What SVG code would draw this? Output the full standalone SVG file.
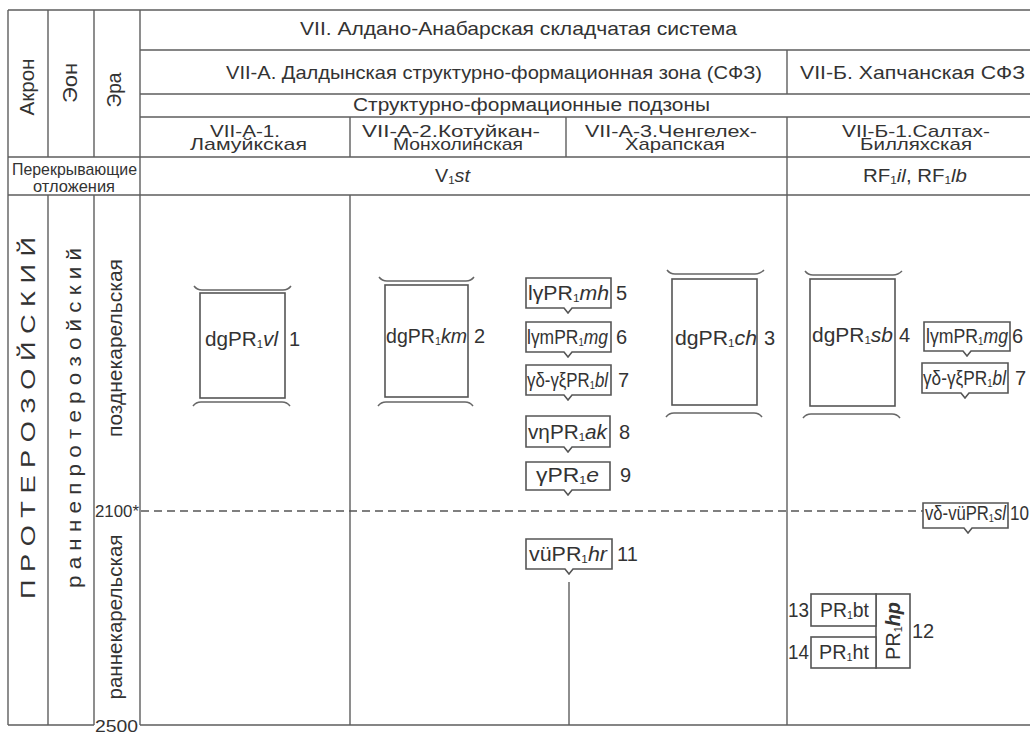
<svg xmlns="http://www.w3.org/2000/svg" width="1030" height="732" viewBox="0 0 1030 732">
<style>
.t{font-family:"Liberation Sans",Arial,sans-serif;fill:#333;}
.ln{stroke:#5e5e5e;stroke-width:1.4;fill:none;}
.bx{stroke:#555;stroke-width:1.6;fill:#fff;}
.br{stroke:#666;stroke-width:1.5;fill:none;}
.i{font-style:italic;}
.bi{font-style:italic;font-weight:bold;}
.dash{stroke:#555;stroke-width:1.3;stroke-dasharray:8 5;fill:none;}
</style>
<rect width="1030" height="732" fill="#fff"/>
<g id="grid" class="ln">
<path d="M8 10H1030M140 50H1030M140 94H1030M140 117H1030M8 157H1030M8 195H1030M8 725H94M140 725H1030"/>
<path d="M8 10V725M48 10V157M48 195V725M94 10V157M94 195V725M140 10V725M787 50V94M787 117V725M350 117V157M350 195V725M566 117V157"/>
</g>
<g id="header" class="t">
<text x="300" y="35" font-size="19" textLength="437" lengthAdjust="spacingAndGlyphs">VII. Алдано-Анабарская складчатая система</text>
<text x="226" y="79" font-size="19" textLength="536" lengthAdjust="spacingAndGlyphs">VII-А. Далдынская структурно-формационная зона (СФЗ)</text>
<text x="800" y="79" font-size="19" textLength="225" lengthAdjust="spacingAndGlyphs">VII-Б. Хапчанская СФЗ</text>
<text x="353" y="111" font-size="18" textLength="357" lengthAdjust="spacingAndGlyphs">Структурно-формационные подзоны</text>
<text x="210" y="137" font-size="17" textLength="70" lengthAdjust="spacingAndGlyphs">VII-А-1.</text>
<text x="190" y="150" font-size="17" textLength="117" lengthAdjust="spacingAndGlyphs">Ламуйкская</text>
<text x="362" y="137" font-size="17" textLength="178" lengthAdjust="spacingAndGlyphs">VII-А-2.Котуйкан-</text>
<text x="393" y="150" font-size="17" textLength="130" lengthAdjust="spacingAndGlyphs">Монхолинская</text>
<text x="585" y="137" font-size="17" textLength="172" lengthAdjust="spacingAndGlyphs">VII-А-3.Ченгелех-</text>
<text x="625" y="150" font-size="17" textLength="100" lengthAdjust="spacingAndGlyphs">Харапская</text>
<text x="842" y="137" font-size="17" textLength="148" lengthAdjust="spacingAndGlyphs">VII-Б-1.Салтах-</text>
<text x="860" y="150" font-size="17" textLength="112" lengthAdjust="spacingAndGlyphs">Билляхская</text>
<text x="12" y="175" font-size="17" textLength="125" lengthAdjust="spacingAndGlyphs">Перекрывающие</text>
<text x="33" y="192" font-size="17" textLength="82" lengthAdjust="spacingAndGlyphs">отложения</text>
<text x="435" y="182" font-size="19" textLength="35" lengthAdjust="spacingAndGlyphs">V<tspan font-size="11" dy="2">1</tspan><tspan dy="-2" class="i">st</tspan></text>
<text x="863" y="182" font-size="19" textLength="104" lengthAdjust="spacingAndGlyphs">RF<tspan font-size="11" dy="2">1</tspan><tspan dy="-2" class="i">il</tspan>, RF<tspan font-size="11" dy="2">1</tspan><tspan dy="-2" class="i">lb</tspan></text>
</g>
<g id="scale" class="t" font-size="20" text-anchor="middle">
<text transform="translate(34,87) rotate(-90)" textLength="57" lengthAdjust="spacingAndGlyphs">Акрон</text>
<text transform="translate(77,83) rotate(-90)" textLength="40" lengthAdjust="spacingAndGlyphs">Эон</text>
<text transform="translate(121,90) rotate(-90)" textLength="35" lengthAdjust="spacingAndGlyphs">Эра</text>
<text transform="translate(35,418) rotate(-90)" textLength="362" lengthAdjust="spacingAndGlyphs">П Р О Т Е Р О З О Й С К И Й</text>
<text transform="translate(81,418) rotate(-90)" textLength="340" lengthAdjust="spacingAndGlyphs">р а н н е п р о т е р о з о й с к и й</text>
<text transform="translate(122,348) rotate(-90)" textLength="178" lengthAdjust="spacingAndGlyphs">позднекарельская</text>
<text transform="translate(122,617) rotate(-90)" textLength="165" lengthAdjust="spacingAndGlyphs">раннекарельская</text>
</g>
<g id="ages" class="t" font-size="16">
<text x="95" y="517" textLength="44" lengthAdjust="spacingAndGlyphs">2100*</text>
<text x="95" y="732" textLength="43" lengthAdjust="spacingAndGlyphs">2500</text>
</g>
<g id="connectors">
<path class="dash" d="M141 511H923"/>
<path class="ln" d="M569 582V725"/>
</g>
<g id="n1" class="t" font-size="20">
<path class="br" d="M194 286Q197 290 202 290H283Q288 290 291 286M193 406Q196 402 201 402H282Q287 402 290 406"/>
<rect class="bx" x="200" y="293" width="85" height="105"/>
<text x="205" y="346" textLength="73" lengthAdjust="spacingAndGlyphs">dgPR<tspan font-size="11" dy="2">1</tspan><tspan dy="-2" class="i">vl</tspan></text>
<text x="289" y="346">1</text>
</g>
<g id="n2" class="t" font-size="20">
<path class="br" d="M379 277Q382 281 387 281H466Q471 281 474 277M378 406Q381 402 386 402H465Q470 402 473 406"/>
<rect class="bx" x="385" y="285" width="83" height="112"/>
<text x="386" y="343" textLength="81" lengthAdjust="spacingAndGlyphs">dgPR<tspan font-size="11" dy="2">1</tspan><tspan dy="-2" class="i">km</tspan></text>
<text x="474" y="343">2</text>
</g>
<g id="n3" class="t" font-size="20">
<path class="br" d="M667 270Q670 274 675 274H755Q760 274 764 270M666 417Q669 413 674 413H754Q759 413 762 417"/>
<rect class="bx" x="672" y="279" width="85" height="126"/>
<text x="675" y="345" textLength="82" lengthAdjust="spacingAndGlyphs">dgPR<tspan font-size="11" dy="2">1</tspan><tspan dy="-2" class="i">ch</tspan></text>
<text x="764" y="345">3</text>
</g>
<g id="n4" class="t" font-size="20">
<path class="br" d="M805 271Q808 275 813 275H893Q898 275 902 271M803 418Q806 414 811 414H892Q897 414 900 418"/>
<rect class="bx" x="810" y="279" width="85" height="127"/>
<text x="812" y="342" textLength="81" lengthAdjust="spacingAndGlyphs">dgPR<tspan font-size="11" dy="2">1</tspan><tspan dy="-2" class="i">sb</tspan></text>
<text x="899" y="342">4</text>
</g>
<g id="n5" class="t" font-size="20">
<path class="bx" d="M526 278H611V308H572L568 313L564 308H526Z"/>
<text x="528" y="300" textLength="81" lengthAdjust="spacingAndGlyphs">lγPR<tspan font-size="11" dy="2">1</tspan><tspan dy="-2" class="i">mh</tspan></text>
<text x="616" y="300">5</text>
</g>
<g id="n6" class="t" font-size="20">
<path class="bx" d="M526 322H611V352H572L568 357L564 352H526Z"/>
<text x="527" y="344" textLength="81" lengthAdjust="spacingAndGlyphs">lγmPR<tspan font-size="11" dy="2">1</tspan><tspan dy="-2" class="i">mg</tspan></text>
<text x="616" y="344">6</text>
</g>
<g id="n7" class="t" font-size="20">
<path class="bx" d="M526 365H611V395H572L568 400L564 395H526Z"/>
<text x="527" y="387" textLength="81" lengthAdjust="spacingAndGlyphs">γδ-γξPR<tspan font-size="11" dy="2">1</tspan><tspan dy="-2" class="i">bl</tspan></text>
<text x="618" y="387">7</text>
</g>
<g id="n8" class="t" font-size="20">
<path class="bx" d="M526 416H610V447H572L568 452L564 447H526Z"/>
<text x="528" y="439" textLength="79" lengthAdjust="spacingAndGlyphs">vηPR<tspan font-size="11" dy="2">1</tspan><tspan dy="-2" class="i">ak</tspan></text>
<text x="619" y="439">8</text>
</g>
<g id="n9" class="t" font-size="20">
<path class="bx" d="M526 462H610V490H572L568 495L564 490H526Z"/>
<text x="536" y="482" textLength="63" lengthAdjust="spacingAndGlyphs">γPR<tspan font-size="11" dy="2">1</tspan><tspan dy="-2" class="i">e</tspan></text>
<text x="620" y="482">9</text>
</g>
<g id="n10" class="t" font-size="20">
<path class="bx" d="M923 503H1008V528H972L968 533L964 528H923Z"/>
<text x="925" y="520" textLength="81" lengthAdjust="spacingAndGlyphs">vδ-vüPR<tspan font-size="11" dy="2">1</tspan><tspan dy="-2" class="i">sl</tspan></text>
<text x="1010" y="520" textLength="19" lengthAdjust="spacingAndGlyphs">10</text>
</g>
<g id="n11" class="t" font-size="20">
<path class="bx" d="M526 539H612V569H573L569 574L565 569H526Z"/>
<text x="529" y="561" textLength="78" lengthAdjust="spacingAndGlyphs">vüPR<tspan font-size="11" dy="2">1</tspan><tspan dy="-2" class="i">hr</tspan></text>
<text x="617" y="561">11</text>
</g>
<g id="n6b" class="t" font-size="20">
<path class="bx" d="M924 322H1010V351H971L967 356L963 351H924Z"/>
<text x="926" y="343" textLength="82" lengthAdjust="spacingAndGlyphs">lγmPR<tspan font-size="11" dy="2">1</tspan><tspan dy="-2" class="i">mg</tspan></text>
<text x="1012" y="343">6</text>
</g>
<g id="n7b" class="t" font-size="20">
<path class="bx" d="M922 363H1008V393H969L965 398L961 393H922Z"/>
<text x="923" y="385" textLength="83" lengthAdjust="spacingAndGlyphs">γδ-γξPR<tspan font-size="11" dy="2">1</tspan><tspan dy="-2" class="i">bl</tspan></text>
<text x="1015" y="385">7</text>
</g>
<g id="n12" class="t" font-size="20">
<rect class="bx" x="876" y="594" width="34" height="74"/>
<text transform="translate(900,631) rotate(-90)" text-anchor="middle" textLength="58" lengthAdjust="spacingAndGlyphs">PR<tspan font-size="11" dy="2">1</tspan><tspan dy="-2" class="bi">hp</tspan></text>
<text x="912" y="638">12</text>
</g>
<g id="n13" class="t" font-size="20">
<rect class="bx" x="811" y="594" width="65" height="32"/>
<text x="820" y="617" textLength="49" lengthAdjust="spacingAndGlyphs">PR<tspan font-size="11" dy="2">1</tspan><tspan dy="-2">bt</tspan></text>
<text x="788" y="617" textLength="21" lengthAdjust="spacingAndGlyphs">13</text>
</g>
<g id="n14" class="t" font-size="20">
<rect class="bx" x="811" y="637" width="65" height="31"/>
<text x="819" y="659" textLength="50" lengthAdjust="spacingAndGlyphs">PR<tspan font-size="11" dy="2">1</tspan><tspan dy="-2">ht</tspan></text>
<text x="788" y="659" textLength="21" lengthAdjust="spacingAndGlyphs">14</text>
</g>
</svg>
